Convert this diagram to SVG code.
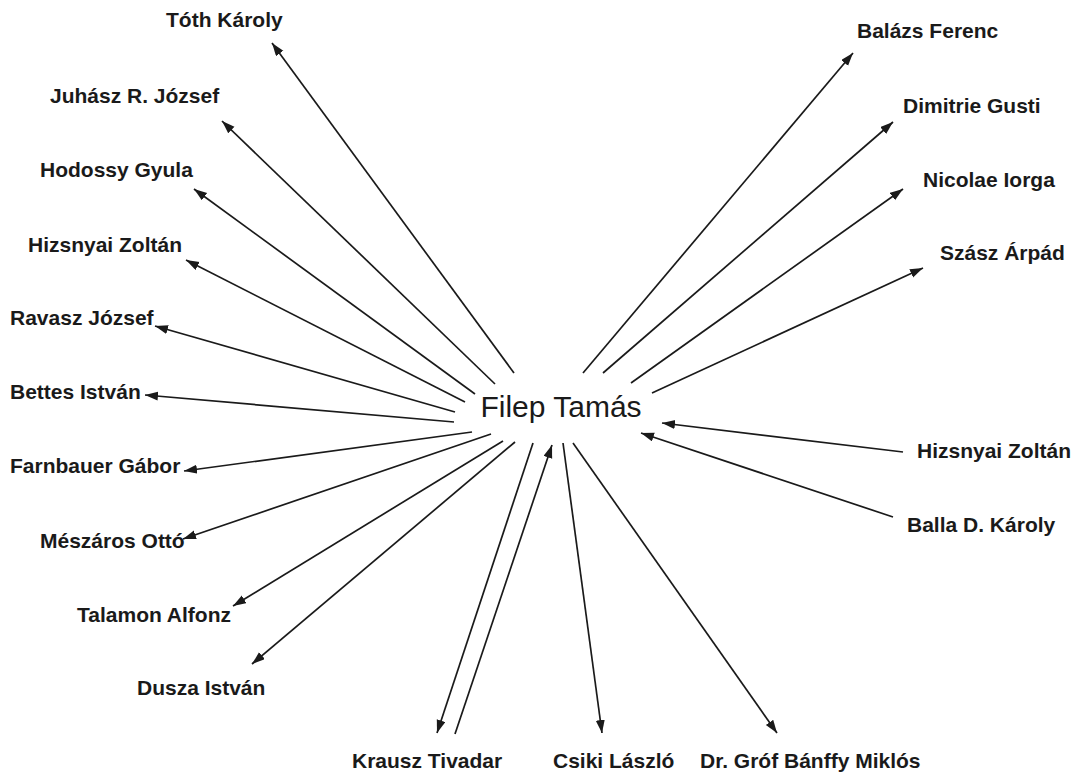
<svg xmlns="http://www.w3.org/2000/svg" width="1079" height="778" viewBox="0 0 1079 778">
  <style>
    .lbl { font-family: "Liberation Sans", Arial, sans-serif; font-weight: bold; font-size: 21px; fill: #1a1a1a; }
    .hub { font-family: "Liberation Sans", Arial, sans-serif; font-size: 30px; fill: #1a1a1a; text-anchor: middle; }
    .edge { stroke: #1a1a1a; stroke-width: 1.7; fill: none; marker-end: url(#arrow); }
  </style>
  <defs>
    <marker id="arrow" markerUnits="userSpaceOnUse" markerWidth="14" markerHeight="10" refX="13" refY="4.5" orient="auto">
      <path d="M0,0 L13,4.5 L0,9 z" fill="#1a1a1a"/>
    </marker>
  </defs>
  <rect width="1079" height="778" fill="#ffffff"/>

  <g id="connectors">
    <!-- outgoing, left side -->
    <line class="edge" x1="514" y1="373" x2="272" y2="43"/>
    <line class="edge" x1="495" y1="384" x2="222" y2="121"/>
    <line class="edge" x1="475" y1="394" x2="194" y2="189"/>
    <line class="edge" x1="465" y1="402" x2="186" y2="260"/>
    <line class="edge" x1="455" y1="412" x2="155" y2="326"/>
    <line class="edge" x1="454" y1="422" x2="145" y2="395"/>
    <line class="edge" x1="472" y1="432" x2="184" y2="471"/>
    <line class="edge" x1="491" y1="434" x2="183" y2="539"/>
    <line class="edge" x1="503" y1="441" x2="233" y2="606"/>
    <line class="edge" x1="515" y1="442" x2="252" y2="664"/>
    <!-- outgoing, bottom -->
    <line class="edge" x1="533" y1="443" x2="437" y2="733"/>
    <line class="edge" x1="563" y1="443" x2="602" y2="733"/>
    <line class="edge" x1="573" y1="443" x2="777" y2="733"/>
    <!-- outgoing, right side -->
    <line class="edge" x1="583" y1="373" x2="853" y2="53"/>
    <line class="edge" x1="603" y1="373" x2="893" y2="122"/>
    <line class="edge" x1="631" y1="383" x2="903" y2="189"/>
    <line class="edge" x1="652" y1="393" x2="923" y2="268"/>
    <!-- incoming -->
    <line class="edge" x1="455" y1="734" x2="552" y2="445"/>
    <line class="edge" x1="903" y1="452" x2="662" y2="423"/>
    <line class="edge" x1="893" y1="517" x2="641" y2="433"/>
  </g>

  <g id="hub"><text class="hub" x="561" y="417">Filep Tamás</text></g>

  <g id="n-toth"><text class="lbl" x="166" y="27">Tóth Károly</text></g>
  <g id="n-juhasz"><text class="lbl" x="50" y="103">Juhász R. József</text></g>
  <g id="n-hodossy"><text class="lbl" x="40" y="177">Hodossy Gyula</text></g>
  <g id="n-hizsnyai-l"><text class="lbl" x="28" y="252">Hizsnyai Zoltán</text></g>
  <g id="n-ravasz"><text class="lbl" x="10" y="325">Ravasz József</text></g>
  <g id="n-bettes"><text class="lbl" x="10" y="399">Bettes István</text></g>
  <g id="n-farnbauer"><text class="lbl" x="10" y="473">Farnbauer Gábor</text></g>
  <g id="n-meszaros"><text class="lbl" x="40" y="548">Mészáros Ottó</text></g>
  <g id="n-talamon"><text class="lbl" x="77" y="622">Talamon Alfonz</text></g>
  <g id="n-dusza"><text class="lbl" x="137" y="695">Dusza István</text></g>
  <g id="n-krausz"><text class="lbl" x="352" y="768">Krausz Tivadar</text></g>
  <g id="n-csiki"><text class="lbl" x="553" y="768">Csiki László</text></g>
  <g id="n-banffy"><text class="lbl" x="700" y="768">Dr. Gróf Bánffy Miklós</text></g>
  <g id="n-balazs"><text class="lbl" x="857" y="38">Balázs Ferenc</text></g>
  <g id="n-gusti"><text class="lbl" x="903" y="113">Dimitrie Gusti</text></g>
  <g id="n-iorga"><text class="lbl" x="923" y="187">Nicolae Iorga</text></g>
  <g id="n-szasz"><text class="lbl" x="940" y="260">Szász Árpád</text></g>
  <g id="n-hizsnyai-r"><text class="lbl" x="917" y="458">Hizsnyai Zoltán</text></g>
  <g id="n-balla"><text class="lbl" x="907" y="532">Balla D. Károly</text></g>
</svg>
